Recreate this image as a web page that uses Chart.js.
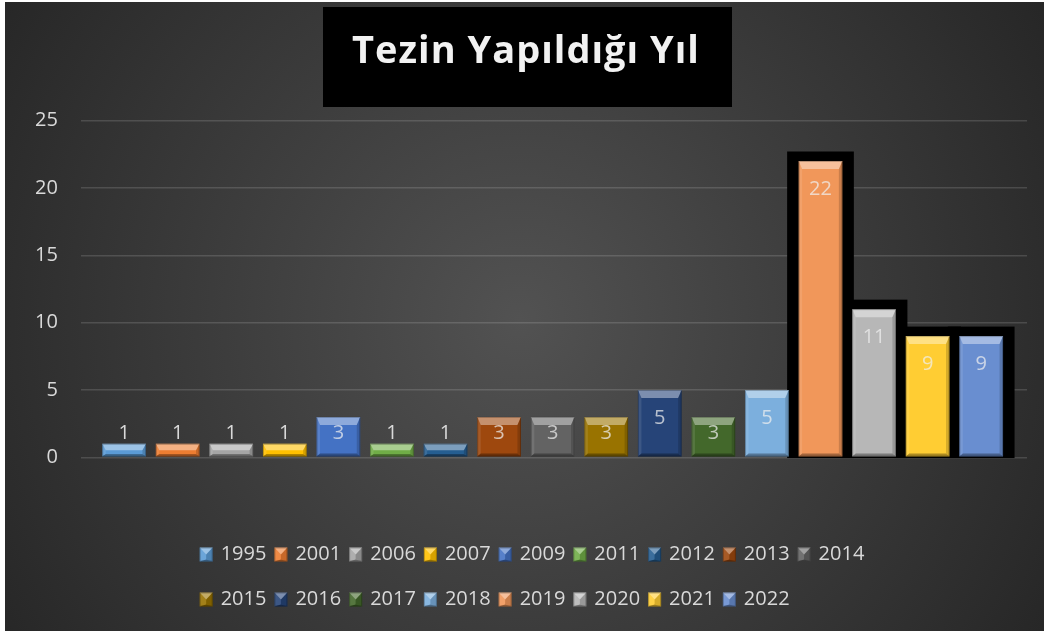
<!DOCTYPE html>
<html><head><meta charset="utf-8">
<script src="https://cdn.jsdelivr.net/npm/chart.js@4.4.1/dist/chart.umd.min.js"></script>
<style>html,body{margin:0;padding:0;background:#fff;overflow:hidden}#wrap{width:1044px;height:631px;position:relative}</style>
</head><body><div id="wrap"><canvas id="c" width="1044" height="631"></canvas></div>
<script>
const chartTitle = 'Tezin Yapıldığı Yıl';
const years = ['1995','2001','2006','2007','2009','2011','2012','2013','2014','2015','2016','2017','2018','2019','2020','2021','2022'];
const counts = [1,1,1,1,3,1,1,3,3,3,5,3,5,22,11,9,9];
const seriesColors = ['#5B9BD5','#ED7D31','#A5A5A5','#FFC000','#4472C4','#70AD47','#255E91','#9E480E','#636363','#997300','#264478','#43682B','#7CAFDD','#F1975A','#B7B7B7','#FFCD33','#698ED0'];
const highlightedYears = ['2019','2020','2021','2022'];
const yTickMin = 0, yTickMax = 25, yTickStep = 5;

const FONT = '"Open Sans", "DejaVu Sans", sans-serif';
const TEXT = '#d9d9d9';

function poly(ctx, pts, fill) {
  ctx.beginPath();
  ctx.moveTo(pts[0][0], pts[0][1]);
  for (let i = 1; i < pts.length; i++) ctx.lineTo(pts[i][0], pts[i][1]);
  ctx.closePath();
  ctx.fillStyle = fill;
  ctx.fill();
}
function drawBevel(ctx, L, T, R, B, dt, ds, db) {
  const h = B - T, w = R - L;
  dt = Math.min(dt, h * 0.5); db = Math.min(db, h * 0.2); ds = Math.min(ds, w / 2);
  poly(ctx, [[L,T],[R,T],[R-ds,T+dt],[L+ds,T+dt]], 'rgba(255,255,255,0.40)');
  poly(ctx, [[L,T],[L+ds,T+dt],[L+ds,B-db],[L,B]], 'rgba(255,255,255,0.10)');
  poly(ctx, [[R,T],[R,B],[R-ds,B-db],[R-ds,T+dt]], 'rgba(0,0,0,0.16)');
  poly(ctx, [[L,B],[R,B],[R-ds,B-db],[L+ds,B-db]], 'rgba(0,0,0,0.32)');
  ctx.strokeStyle = 'rgba(0,0,0,0.25)';
  ctx.lineWidth = 1;
  ctx.strokeRect(L + 0.5, T + 0.5, w - 1, h - 1);
}
function barBox(el) {
  const p = el.getProps(['x','y','base','width'], true);
  return {L: p.x - p.width / 2, R: p.x + p.width / 2, T: Math.min(p.y, p.base), B: Math.max(p.y, p.base)};
}

const decorPlugin = {
  id: 'decor',
  beforeDraw(chart) {
    const ctx = chart.ctx, W = chart.width, H = chart.height;
    ctx.save();
    ctx.fillStyle = '#ffffff';
    ctx.fillRect(0, 0, W, H);
    const g = ctx.createRadialGradient(520, 320, 0, 520, 320, 620);
    g.addColorStop(0, '#525252');
    g.addColorStop(1, '#262626');
    ctx.fillStyle = g;
    ctx.fillRect(5, 2, W - 5, H - 2);
    // title box + title text
    ctx.fillStyle = '#000000';
    ctx.fillRect(323, 7, 409, 100);
    ctx.fillStyle = '#f2f2f2';
    ctx.font = 'bold 38px ' + FONT;
    try { ctx.letterSpacing = '1px'; } catch (e) {}
    ctx.textAlign = 'center';
    ctx.textBaseline = 'alphabetic';
    ctx.fillText(chartTitle, 526, 63);
    try { ctx.letterSpacing = '0px'; } catch (e) {}
    ctx.restore();
  },
  beforeLayout(chart) {
    const lg = chart.legend;
    if (lg && !lg._rowPatch) {
      const orig = lg.update.bind(lg);
      lg.update = (w, h, m) => orig(Math.min(w, 720), h, m);
      lg._rowPatch = true;
    }
  },
  afterLayout(chart) {
    const lg = chart.legend;
    if (!lg || !lg.lineWidths) return;
    const pad = lg.options.labels.padding;
    const center = chart.width / 2 + 10;
    const rowW = lg.lineWidths[0] - pad;
    const start = center - rowW / 2;
    lg.left = start - pad;
    lg.right = start + lg.lineWidths[0] + 2;
  },
  beforeDatasetsDraw(chart) {
    const ctx = chart.ctx;
    ctx.save();
    ctx.fillStyle = '#000000';
    chart.data.datasets.forEach((ds, i) => {
      if (!highlightedYears.includes(ds.label)) return;
      const meta = chart.getDatasetMeta(i);
      meta.data.forEach(el => {
        const b = barBox(el);
        ctx.fillRect(b.L - 11.5, b.T - 9.5, (b.R - b.L) + 23, (b.B - b.T) + 11);
      });
    });
    ctx.restore();
  },
  afterDatasetsDraw(chart) {
    const ctx = chart.ctx;
    ctx.save();
    chart.data.datasets.forEach((ds, i) => {
      const meta = chart.getDatasetMeta(i);
      meta.data.forEach(el => {
        const b = barBox(el);
        drawBevel(ctx, b.L, b.T, b.R, b.B, 8, 3.5, 3);
      });
    });
    // data labels
    ctx.font = '20px ' + FONT;
    ctx.textAlign = 'center';
    ctx.textBaseline = 'middle';
    chart.data.datasets.forEach((ds, i) => {
      const meta = chart.getDatasetMeta(i);
      meta.data.forEach((el, j) => {
        const b = barBox(el);
        const h = b.B - b.T;
        const v = ds.data[j].y;
        let y, col;
        if (h < 30) { y = b.T - 11; col = TEXT; }
        else { y = b.T + Math.min(28, h / 2 - 3); col = 'rgba(240,240,240,0.72)'; }
        ctx.fillStyle = col;
        ctx.fillText(String(v), (b.L + b.R) / 2, y);
      });
    });
    ctx.restore();
  },
  afterDraw(chart) {
    const lg = chart.legend;
    if (!lg || !lg.legendHitBoxes) return;
    const ctx = chart.ctx;
    ctx.save();
    lg.legendHitBoxes.forEach((hb, i) => {
      const item = lg.legendItems[i];
      const di = item.datasetIndex;
      const L = hb.left, T = hb.top + hb.height / 2 - 7, R = L + 13, B = T + 14;
      ctx.fillStyle = seriesColors[di];
      ctx.fillRect(L, T, 13, 14);
      drawBevel(ctx, L, T, R, B, 7, 6.5, 2);
    });
    ctx.restore();
  }
};

const datasets = years.map((yr, i) => ({
  label: yr,
  data: [{x: i, y: counts[i]}],
  backgroundColor: seriesColors[i],
  borderWidth: 0,
  grouped: false,
  barPercentage: 0.816,
  categoryPercentage: 1.0
}));

new Chart(document.getElementById('c'), {
  type: 'bar',
  data: { datasets },
  plugins: [decorPlugin],
  options: {
    responsive: false,
    animation: false,
    events: [],
    layout: { padding: { top: 120.6, right: 17, bottom: 3, left: 12 } },
    scales: {
      x: {
        type: 'linear',
        min: -0.807,
        max: 16.855,
        offset: false,
        ticks: { display: false, stepSize: 1, includeBounds: false },
        grid: { display: false },
        border: { display: false },
        afterFit(scale) { scale.height = 70.7; }
      },
      y: {
        min: yTickMin,
        max: yTickMax,
        ticks: { stepSize: yTickStep, color: TEXT, font: { family: FONT, size: 20 }, padding: 23 },
        grid: { color: 'rgba(255,255,255,0.14)', lineWidth: 1.5, drawTicks: false },
        border: { display: false }
      }
    },
    plugins: {
      tooltip: { enabled: false },
      title: { display: false },
      legend: {
        position: 'bottom',
        align: 'start',
        labels: {
          color: TEXT,
          font: { family: FONT, size: 20 },
          boxWidth: 11,
          boxHeight: 37,
          padding: 8,
          generateLabels(chart) {
            const items = Chart.defaults.plugins.legend.labels.generateLabels(chart);
            return items.map(it => Object.assign(it, { fillStyle: 'rgba(0,0,0,0)', strokeStyle: 'rgba(0,0,0,0)', lineWidth: 0, fontColor: TEXT }));
          }
        }
      }
    }
  }
});
</script>
</body></html>
